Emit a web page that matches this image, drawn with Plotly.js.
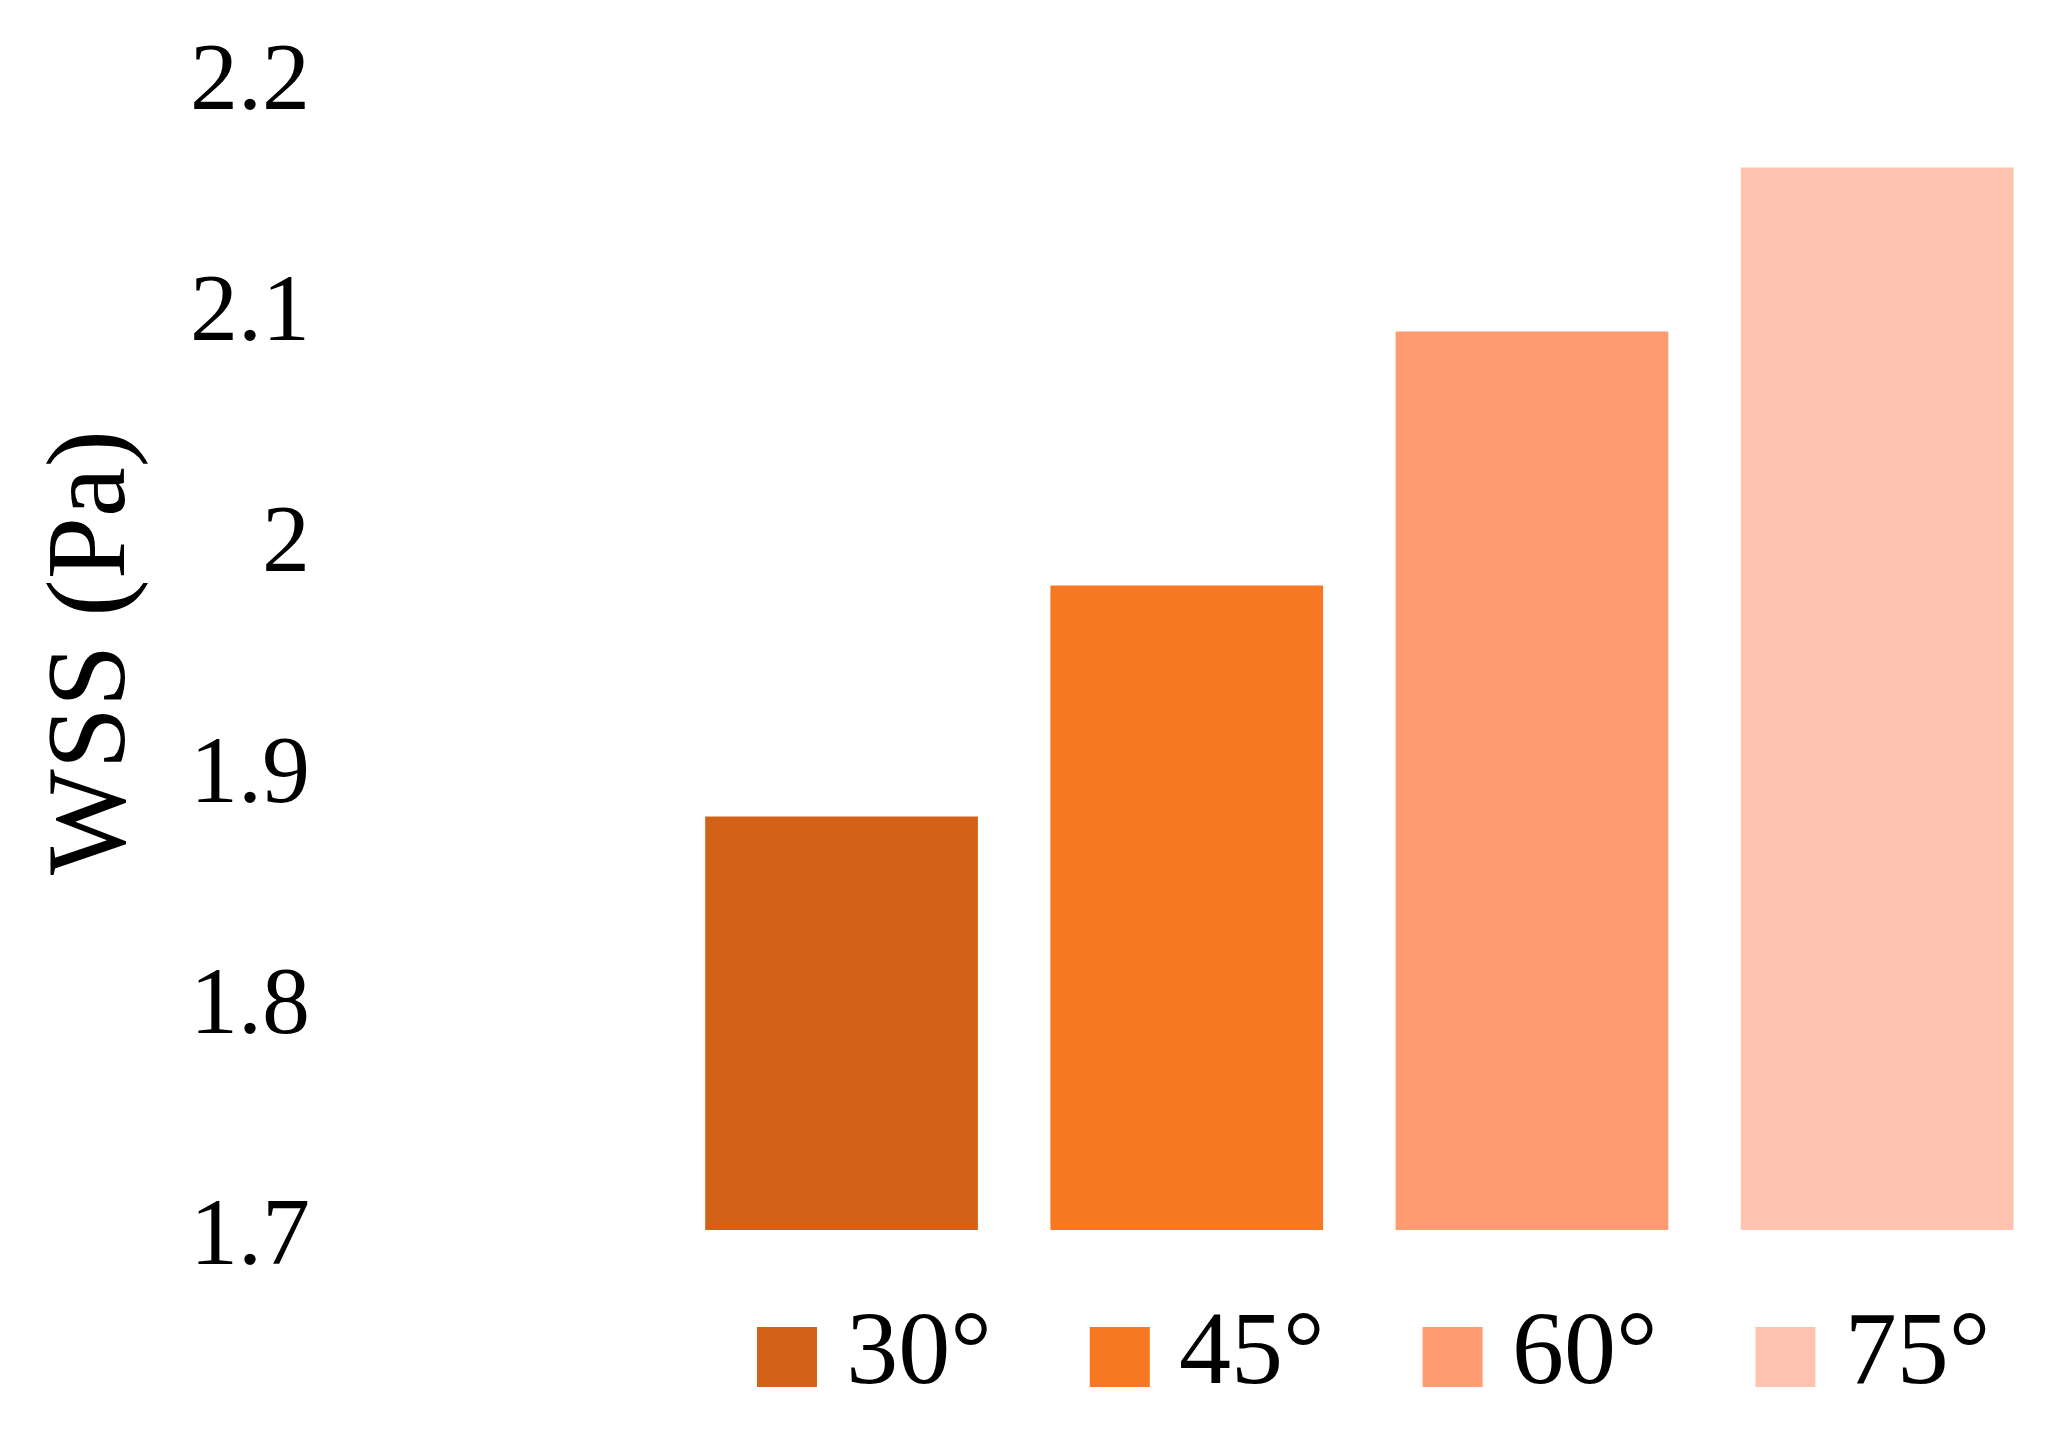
<!DOCTYPE html>
<html>
<head>
<meta charset="utf-8">
<script src="https://cdn.plot.ly/plotly-3.0.1.min.js"></script>
<style>
  html, body { margin: 0; padding: 0; background: #fff; }
  #plot { width: 2047px; height: 1445px; }
</style>
</head>
<body>
<div id="plot"></div>
<script>
// angles and the wall shear stress
const angles = ['30°', '45°', '60°', '75°'];
const wss = [1.879, 1.979, 2.089, 2.160];
const barColors = ['#D36218', '#F67822', '#FF9B70', '#FFC3B0'];
const yTicks = [1.7, 1.8, 1.9, 2.0, 2.1, 2.2];

const serif = 'Liberation Serif, Times New Roman, serif';

// bars
const bars = {
  type: 'bar',
  x: angles,
  y: wss,
  marker: { color: barColors },
  showlegend: false,
  hoverinfo: 'x+y'
};

// legend row drawn as its own little trace under the bars
const legendRow = {
  type: 'scatter',
  mode: 'markers+text',
  x: angles.map((a, i) => i),
  y: angles.map(() => 0),
  text: angles.map(a => '\u2009' + a),
  textposition: 'middle right',
  textfont: { family: serif, size: 104, color: '#000' },
  marker: { symbol: 'square', size: 60, color: barColors },
  xaxis: 'x2',
  yaxis: 'y2',
  showlegend: false,
  hoverinfo: 'skip',
  cliponaxis: false
};

const layout = {
  width: 2047,
  height: 1445,
  margin: { l: 0, r: 0, t: 75, b: 0 },
  paper_bgcolor: '#fff',
  plot_bgcolor: '#fff',
  font: { family: serif, color: '#000' },
  bargap: 0.21,
  xaxis: {
    domain: [0.3268, 1],
    range: [-0.5, 3.492],
    anchor: 'y',
    showticklabels: false,
    showgrid: false,
    zeroline: false,
    showline: false,
    ticks: ''
  },
  yaxis: {
    domain: [0.1569, 1],
    range: [1.7, 2.2],
    tickvals: yTicks,
    ticktext: yTicks.map(v => String(v)),
    anchor: 'free',
    position: 0.1514,
    showgrid: false,
    zeroline: false,
    showline: false,
    ticks: '',
    tickfont: { family: serif, size: 96, color: '#000' },
    title: { text: 'WSS (Pa)', font: { family: serif, size: 112, color: '#000' }, standoff: 26 }
  },
  xaxis2: {
    domain: [0.3268, 1],
    range: [-0.3546, 3.786],
    anchor: 'y2',
    visible: false
  },
  yaxis2: {
    domain: [0, 0.1569],
    range: [-0.409, 0.591],
    anchor: 'x2',
    visible: false
  }
};

Plotly.newPlot('plot', [bars, legendRow], layout, { displayModeBar: false, staticPlot: true });
</script>
</body>
</html>
